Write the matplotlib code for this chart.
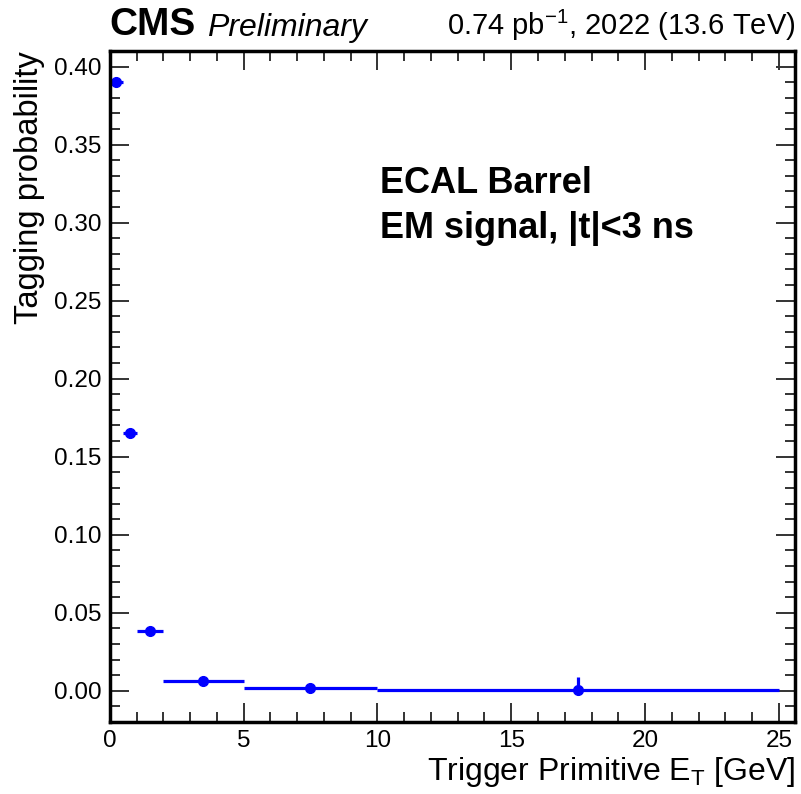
import matplotlib.pyplot as plt
from matplotlib.ticker import MultipleLocator

# Binned tagging probability vs trigger primitive ET
bin_lo = [0.0, 0.5, 1.0, 2.0, 5.0, 10.0]
bin_hi = [0.5, 1.0, 2.0, 5.0, 10.0, 25.0]
prob = [0.390, 0.165, 0.038, 0.0065, 0.0015, 0.0003]
err_lo = [0.001, 0.001, 0.001, 0.0005, 0.0005, 0.0003]
err_hi = [0.001, 0.001, 0.001, 0.0005, 0.0005, 0.0085]

centers = [(a + b) / 2 for a, b in zip(bin_lo, bin_hi)]
xerr = [(b - a) / 2 for a, b in zip(bin_lo, bin_hi)]

plt.rcParams['font.family'] = ['Liberation Sans', 'DejaVu Sans']
plt.rcParams['mathtext.fontset'] = 'custom'
plt.rcParams['mathtext.rm'] = 'Liberation Sans'

fig = plt.figure(figsize=(8.01, 7.94), dpi=100)
ax = fig.add_axes([0.137, 0.0907, 0.8555, 0.8451])

ax.errorbar(centers, prob, xerr=xerr, yerr=[err_lo, err_hi], fmt='o',
            color='#0000ff', markersize=7, elinewidth=2.3, capsize=0)

ax.set_xlim(0, 25.6)
ax.set_ylim(-0.02, 0.41)
ax.xaxis.set_major_locator(MultipleLocator(5))
ax.xaxis.set_minor_locator(MultipleLocator(1))
ax.yaxis.set_major_locator(MultipleLocator(0.05))
ax.yaxis.set_minor_locator(MultipleLocator(0.01))
ax.yaxis.set_major_formatter(plt.FormatStrFormatter('%.2f'))
ax.tick_params(which='both', direction='in', top=True, right=True, labelsize=17.5,
               width=1.4, color='#333333')
ax.tick_params(which='major', length=14, pad=6)
ax.tick_params(which='minor', length=7)
for s in ax.spines.values():
    s.set_linewidth(2.5)

ax.set_xlabel('Trigger Primitive E$_\\mathregular{T}$ [GeV]', fontsize=23, loc='right', labelpad=2)
ax.set_ylabel('Tagging probability', fontsize=23.5, loc='top', labelpad=6)

ax.text(0.137, 0.946, 'CMS', transform=fig.transFigure, fontsize=28, fontweight='bold', va='bottom')
ax.text(0.258, 0.946, 'Preliminary', transform=fig.transFigure, fontsize=23, style='italic', va='bottom')
ax.text(0.993, 0.946, '0.74 pb$^{-1}$, 2022 (13.6 TeV)', transform=fig.transFigure,
        fontsize=21, ha='right', va='bottom')

ax.text(0.394, 0.803, 'ECAL Barrel', transform=ax.transAxes, fontsize=26, fontweight='bold', va='center')
ax.text(0.394, 0.736, 'EM signal, |t|<3 ns', transform=ax.transAxes, fontsize=26, fontweight='bold', va='center')

fig.savefig('out.png', dpi=100)
